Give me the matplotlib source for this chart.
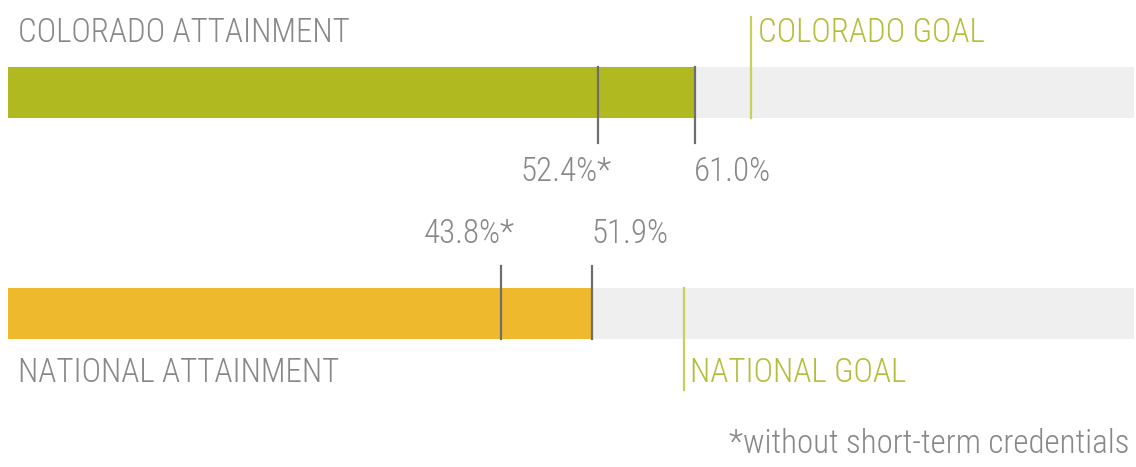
import matplotlib
matplotlib.use("Agg")
import matplotlib.pyplot as plt
from matplotlib import font_manager
from matplotlib.transforms import offset_copy

# --- Daten ---
labels = ["COLORADO ATTAINMENT", "NATIONAL ATTAINMENT"]
goal_labels = ["COLORADO GOAL", "NATIONAL GOAL"]
attainment = [61.0, 51.9]
without_short = [52.4, 43.8]
goals = [66.0, 60.0]
footnote = "*without short-term credentials"

# --- Schrift: schmale Light-Schrift suchen ---
names = {f.name for f in font_manager.fontManager.ttflist}
fam = "DejaVu Sans"
for cand in ["Roboto Condensed", "Barlow Condensed", "Asap Condensed", "Archivo Narrow"]:
    if cand in names:
        fam = cand
        break
plt.rcParams["font.family"] = [fam, "DejaVu Sans"]
plt.rcParams["font.weight"] = 300

bar_colors = ["#b0b920", "#eeb92d"]
bg_color = "#efefef"
mark_color = "#6e6e6e"
goal_line_color = "#c8cf5a"
goal_text_color = "#b3bf3c"
text_color = "#888888"

fig = plt.figure(figsize=(11.36, 4.67), dpi=100)
ax = fig.add_axes([8 / 1136, 0, 1126 / 1136, 1])
ax.set_xlim(0, 100)
ax.set_ylim(467, 0)
ax.axis("off")

# Schriftgröße aus der Breite von "COLORADO ATTAINMENT" ableiten
renderer = fig.canvas.get_renderer()
probe = fig.text(0, 0, labels[0], fontsize=25)
w = probe.get_window_extent(renderer).width
probe.remove()
fs = 25 * 332 / w
probe = fig.text(0, 0, "*", fontsize=fs)
ast_w = probe.get_window_extent(renderer).width
probe.remove()
shift = offset_copy(ax.transData, fig=fig, x=ast_w, y=0, units="dots")

# Layout (Pixel-Positionen)
bar_top = [67, 288]
bar_h = 51

for i in range(2):
    top = bar_top[i]
    ax.barh(top + bar_h / 2, 100, height=bar_h, left=0, color=bg_color, zorder=1)
    ax.barh(top + bar_h / 2, attainment[i], height=bar_h, left=0, color=bar_colors[i], zorder=2)

    if i == 0:
        mark_span, val_base = (top, 143), 181
        goal_span, label_base = (17, top + bar_h), 42
    else:
        mark_span, val_base = (266, top + bar_h), 243
        goal_span, label_base = (top, 390), 382

    for v in [without_short[i], attainment[i]]:
        ax.plot([v, v], mark_span, color=mark_color, lw=1.6, zorder=3)
    ax.text(without_short[i], val_base, f"{without_short[i]:.1f}%*", ha="right", va="baseline",
            fontsize=fs, color=text_color, transform=shift)
    ax.text(attainment[i] - 0.05, val_base, f"{attainment[i]:.1f}%", ha="left", va="baseline",
            fontsize=fs, color=text_color)

    ax.plot([goals[i], goals[i]], goal_span, color=goal_line_color, lw=1.6, zorder=3)
    ax.text(goals[i] + 0.6, label_base, goal_labels[i], ha="left", va="baseline",
            fontsize=fs, color=goal_text_color)
    ax.text(0.9, label_base, labels[i], ha="left", va="baseline", fontsize=fs, color=text_color)

ax.text(99.6, 453, footnote, ha="right", va="baseline", fontsize=fs, color=text_color)

fig.savefig("out.png", dpi=100)
